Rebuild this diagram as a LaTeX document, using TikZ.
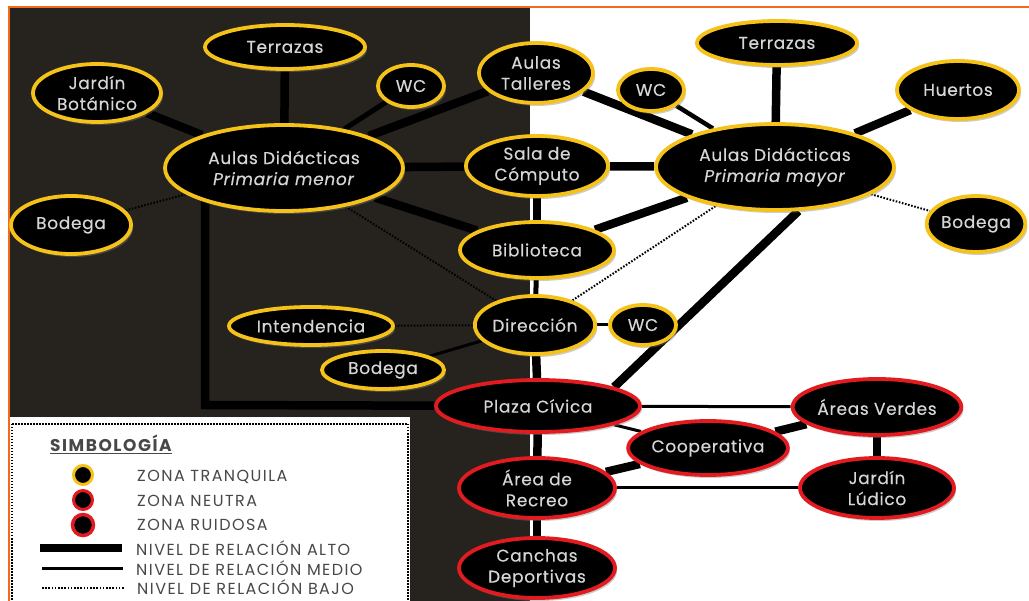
\documentclass[tikz,border=0pt]{standalone}
\usepackage{fontspec}
\setmainfont{Poppins}
\newfontfamily\nodefont{Poppins}[LetterSpace=4, FakeBold=0.3]
\newfontfamily\legfont{Poppins}[LetterSpace=9]
\usetikzlibrary{shapes.geometric,shadows}
\pgfdeclarelayer{panel}
\pgfdeclarelayer{edges}
\pgfsetlayers{panel,edges,main}
\definecolor{gold}{HTML}{F5C21A}
\definecolor{zred}{HTML}{E11B1F}
\definecolor{panelc}{HTML}{26231E}
\definecolor{txt}{HTML}{D6D6D6}
\definecolor{orng}{HTML}{F26B1D}
\definecolor{legtxt}{HTML}{484848}
\tikzset{
  zone/.style={ellipse, fill=black, line width=3.8pt, inner sep=0pt, text=txt, align=center,
    font=\nodefont\fontsize{17}{21}\selectfont,
    drop shadow={shadow xshift=2pt, shadow yshift=-3pt, opacity=0.4}},
  tq/.style={zone, draw=gold},
  nt/.style={zone, draw=zred},
  alto/.style={line width=8.5pt},
  medio/.style={line width=3pt},
  bajo/.style={line width=2pt, dash pattern=on 1.6pt off 1.6pt},
  legtext/.style={anchor=west, text=legtxt, font=\legfont\fontsize{16}{18}\selectfont, inner sep=0pt},
  legdot/.style={circle, fill=black, minimum size=19pt, inner sep=0pt, line width=3pt},
}
\begin{document}
\begin{tikzpicture}[x=1pt,y=-1pt]
\useasboundingbox (0,0) rectangle (1029,601);
\begin{pgfonlayer}{panel}
  \fill[white] (0,0) rectangle (1029,601);
  \fill[panelc] (10,8) rectangle (530,601);
  \draw[orng, line width=2.5pt] (9,601) -- (9,7) -- (1029,7);
\end{pgfonlayer}

% left cluster
\node[tq, minimum width=160, minimum height=44] (TerrL) at (285,47) {Terrazas};
\node[tq, minimum width=128, minimum height=58] (JardB) at (97,93) {Jardín\\Botánico};
\node[tq, minimum width=66, minimum height=42] (WCL) at (411,86) {WC};
\node[tq, minimum width=238, minimum height=86] (AulMen) at (284,168) {Aulas Didácticas\\\textit{Primaria menor}};
\node[tq, minimum width=120, minimum height=58] (BodL) at (71,225) {Bodega};
% column
\node[tq, minimum width=114, minimum height=60] (AulTal) at (536,73) {Aulas\\Talleres};
\node[tq, minimum width=142, minimum height=60] (Sala) at (537,166) {Sala de\\Cómputo};
\node[tq, minimum width=154, minimum height=56] (Biblio) at (537,250) {Biblioteca};
\node[tq, minimum width=108, minimum height=58] (Dir) at (535,325) {Dirección};
\node[tq, minimum width=66, minimum height=40] (WCD) at (643,325) {WC};
\node[tq, minimum width=164, minimum height=38] (Inten) at (311,326) {Intendencia};
\node[tq, minimum width=122, minimum height=38] (BodD) at (383,370) {Bodega};
% right cluster
\node[tq, minimum width=160, minimum height=44] (TerrR) at (777,43) {Terrazas};
\node[tq, minimum width=66, minimum height=42] (WCR) at (651,90) {WC};
\node[tq, minimum width=122, minimum height=58] (Huer) at (958,90) {Huertos};
\node[tq, minimum width=238, minimum height=86] (AulMay) at (775,167) {Aulas Didácticas\\\textit{Primaria mayor}};
\node[tq, minimum width=98, minimum height=56] (BodR) at (976,224) {Bodega};
% red zone
\node[nt, minimum width=204, minimum height=52] (Plaza) at (538,406) {Plaza Cívica};
\node[nt, minimum width=146, minimum height=54] (Coop) at (708,448) {Cooperativa};
\node[nt, minimum width=154, minimum height=56] (AreasV) at (877,407) {Áreas Verdes};
\node[nt, minimum width=154, minimum height=60] (JardL) at (877,488) {Jardín\\Lúdico};
\node[nt, minimum width=156, minimum height=60] (AreaR) at (537,488) {Área de\\Recreo};
\node[nt, minimum width=156, minimum height=60] (Canch) at (537,568) {Canchas\\Deportivas};

\coordinate (corner) at (205,405);

\begin{pgfonlayer}{edges}
  \draw[alto] (AulMen) -- (TerrL);
  \draw[alto] (AulMen) -- (JardB);
  \draw[medio, line width=5pt] (AulMen) -- (WCL);
  \draw[alto] (AulMen) -- (AulTal);
  \draw[alto] (AulMen) -- (Sala);
  \draw[alto] (AulMen) -- (Biblio);
  \draw[bajo] (AulMen) -- (BodL);
  \draw[bajo] (AulMen) -- (Dir);
  \draw[alto] (AulMen.center -| corner) -- (corner) -- (Plaza);
  \draw[alto] (Sala) -- (Biblio);
  \draw[medio, line width=5pt] (Biblio) -- (Dir);
  \draw[medio] (Dir) -- (WCD);
  \draw[bajo] (Dir) -- (Inten);
  \draw[medio] (Dir) -- (BodD);
  \draw[bajo] (Dir) -- (AulMay);
  \draw[alto] (Dir) -- (Plaza);
  \draw[alto] (Plaza) -- (AreaR);
  \draw[alto] (AreaR) -- (Canch);
  \draw[alto] (AulMay) -- (AulTal);
  \draw[medio, line width=4.5pt] (AulMay) -- (WCR);
  \draw[alto] (AulMay) -- (TerrR);
  \draw[alto] (AulMay) -- (Huer);
  \draw[alto] (AulMay) -- (Sala);
  \draw[alto] (AulMay) -- (Biblio);
  \draw[bajo] (AulMay) -- (BodR);
  \draw[alto] (AulMay.-62) -- (Plaza.14);
  \draw[medio] (Plaza) -- (AreasV);
  \draw[medio] (Plaza) -- (Coop);
  \draw[alto] (Coop) -- (AreasV);
  \draw[alto] (AreaR) -- (Coop);
  \draw[alto] (AreasV) -- (JardL);
  \draw[medio] (AreaR) -- (JardL);
\end{pgfonlayer}

% legend
\fill[white] (10,417) rectangle (410,601);
\draw[line width=2.5pt, dash pattern=on 1.5pt off 1.5pt] (12,424) -- (408,424) -- (408,604) (12,424) -- (12,604);
\node[anchor=west, inner sep=0pt, text=legtxt, font=\legfont\fontsize{17}{19}\selectfont\bfseries] (title) at (50,444) {\underline{SIMBOLOGÍA}};
\node[legdot, draw=gold] (d1) at (83,475) {};
\node[legdot, draw=zred] (d2) at (83,500) {};
\node[legdot, draw=zred, minimum size=21pt, line width=3.5pt] (d3) at (83,525) {};
\node[legtext] (t1) at (137,477) {ZONA TRANQUILA};
\node[legtext] (t2) at (137,501) {ZONA NEUTRA};
\node[legtext] (t3) at (137,525) {ZONA RUIDOSA};
\coordinate (l1a) at (40,548); \coordinate (l1b) at (122,548);
\coordinate (l2a) at (42,569); \coordinate (l2b) at (123,569);
\coordinate (l3a) at (42,588); \coordinate (l3b) at (125,588);
\draw[line width=8pt] (l1a) -- (l1b);
\draw[line width=3pt] (l2a) -- (l2b);
\draw[bajo] (l3a) -- (l3b);
\node[legtext] (t4) at (136,548) {NIVEL DE RELACIÓN ALTO};
\node[legtext] (t5) at (136,568) {NIVEL DE RELACIÓN MEDIO};
\node[legtext] (t6) at (137,587) {NIVEL DE RELACIÓN BAJO};
\end{tikzpicture}
\end{document}
